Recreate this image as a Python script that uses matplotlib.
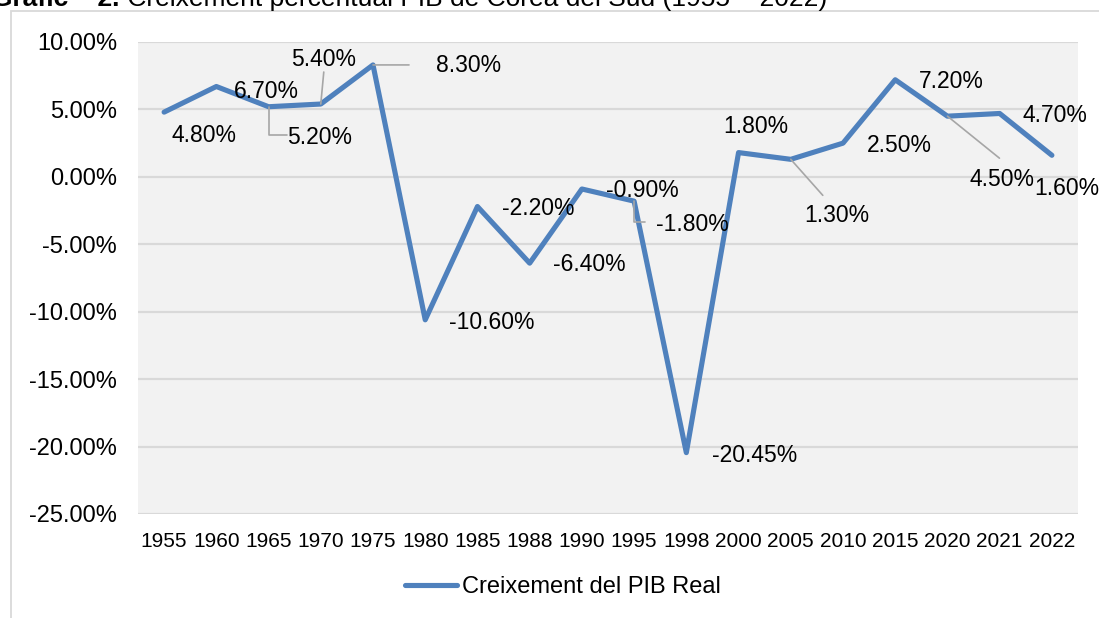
import matplotlib
matplotlib.use('Agg')
import matplotlib.pyplot as plt
from matplotlib.patches import Rectangle

plt.rcParams['font.family'] = ['Liberation Sans', 'DejaVu Sans']

# ---- data ----
years = ['1955', '1960', '1965', '1970', '1975', '1980', '1985', '1988', '1990',
         '1995', '1998', '2000', '2005', '2010', '2015', '2020', '2021', '2022']
growth = [4.80, 6.70, 5.20, 5.40, 8.30, -10.60, -2.20, -6.40, -0.90,
          -1.80, -20.45, 1.80, 1.30, 2.50, 7.20, 4.50, 4.70, 1.60]
value_labels = ['4.80%', '6.70%', '5.20%', '5.40%', '8.30%', '-10.60%', '-2.20%', '-6.40%', '-0.90%',
                '-1.80%', '-20.45%', '1.80%', '1.30%', '2.50%', '7.20%', '4.50%', '4.70%', '1.60%']
y_ticks = [10, 5, 0, -5, -10, -15, -20, -25]
y_tick_labels = ['10.00%', '5.00%', '0.00%', '-5.00%', '-10.00%', '-15.00%', '-20.00%', '-25.00%']
series_name = 'Creixement del PIB Real'
title_bold = 'Gràfic – 2.'
title_rest = ' Creixement percentual PIB de Corea del Sud (1955 – 2022)'

# label offsets in pixels (dx, dy) from each point
label_offsets = [(40, -23), (50, -5), (51, -31), (3, 45), (96, -1), (67, -3), (61, -2), (60, -1),
                 (60, -2), (58, -23), (68, -3), (17, 26), (46, -56), (56, -2), (56, -2),
                 (55, -63), (55, -2), (15, -33)]
# leader lines: index -> (kind, end offset in pixels)
leaders = {2: ('angle', (18, -28)), 3: ('line', (3, 32)), 4: ('line', (36, 0)),
           9: ('angle', (11, -21)), 12: ('line', (32, -36)), 15: ('line', (52, -42))}

LINE_COLOR = '#4F81BD'
GRID_COLOR = '#D9D9D9'
LEADER_COLOR = '#A6A6A6'

W, H = 1099, 618
fig = plt.figure(figsize=(W / 100, H / 100), dpi=100)
fig.patch.set_facecolor('white')

# outer chart border
fig.patches.append(Rectangle((10.5 / W, -0.1), 1.2, 1 - 11.5 / H + 0.1, transform=fig.transFigure,
                             fill=False, edgecolor=GRID_COLOR, lw=1.3))

ax = fig.add_axes([138 / W, 1 - 514 / H, (1078 - 138) / W, (514 - 42) / H])
ax.set_facecolor('#F2F2F2')
x = list(range(len(years)))
ax.plot(x, growth, color=LINE_COLOR, lw=3.7, solid_capstyle='round', solid_joinstyle='round',
        label=series_name, zorder=3)
ax.set_xlim(-0.5, len(years) - 0.5)
ax.set_ylim(-25, 10)
ax.set_yticks(y_ticks)
ax.set_yticklabels(y_tick_labels)
ax.set_xticks(x)
ax.set_xticklabels(years)
ax.tick_params(axis='y', length=0, pad=15, labelsize=17)
ax.tick_params(axis='x', length=0, pad=13, labelsize=15)
for s in ax.spines.values():
    s.set_visible(False)
ax.grid(axis='y', color=GRID_COLOR, lw=1.6)
ax.set_axisbelow(True)

for i, (v, lab, (dx, dy)) in enumerate(zip(growth, value_labels, label_offsets)):
    ax.annotate(lab, xy=(i, v), xytext=(dx, dy), textcoords='offset pixels',
                ha='center', va='center', fontsize=16.5, color='black', zorder=5)
    if i in leaders:
        kind, (ex, ey) = leaders[i]
        cs = 'angle,angleA=0,angleB=90,rad=0' if kind == 'angle' else 'arc3'
        ax.annotate('', xy=(i, v), xytext=(ex, ey), textcoords='offset pixels',
                    arrowprops=dict(arrowstyle='-', color=LEADER_COLOR, lw=1.2,
                                    connectionstyle=cs, shrinkA=0, shrinkB=0), zorder=4)

fig.legend(loc='center', bbox_to_anchor=(563 / W, 1 - 587 / H), frameon=False, fontsize=17,
           handlelength=2.2, handletextpad=0.25)

# title (partly cut off at the top as in the reference)
t1 = fig.text(-8 / W, 1 - 6 / H, title_bold, fontsize=19, fontweight='bold', va='baseline', ha='left')
fig.canvas.draw()
bb = t1.get_window_extent()
fig.text(bb.x1 / W, 1 - 6 / H, title_rest, fontsize=19, va='baseline', ha='left')

fig.savefig('out.png', dpi=100)
